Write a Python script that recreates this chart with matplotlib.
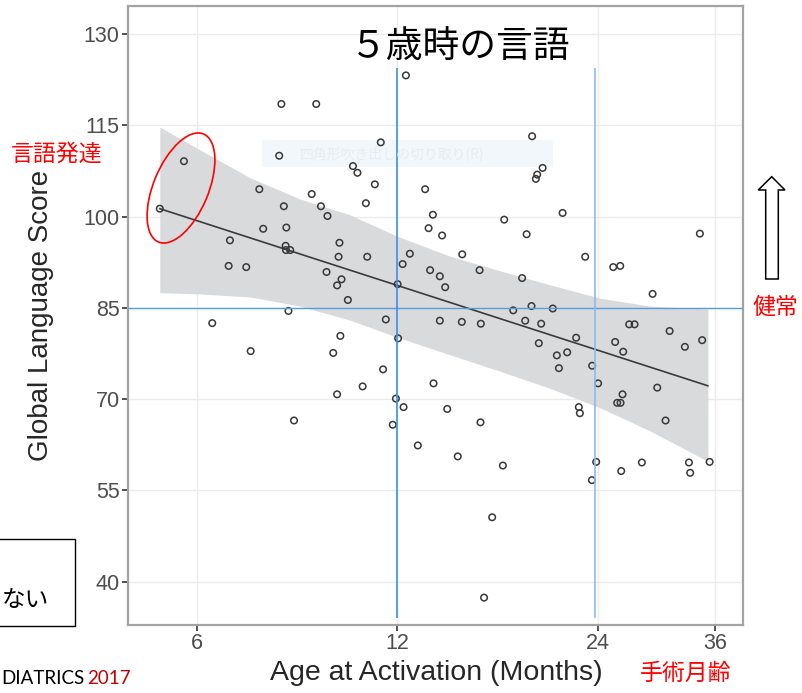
import numpy as np
import matplotlib
matplotlib.use("Agg")
import matplotlib.pyplot as plt
from matplotlib.patches import Ellipse, Polygon, Rectangle
from matplotlib.transforms import IdentityTransform
from matplotlib.ticker import FixedLocator, FixedFormatter, NullLocator

# age at activation (months) and global language score at 5 years
age_months = [
    8.04, 9.07, 7.98, 5.74, 5.28, 7.45, 8.93, 8.11, 9.22, 9.43, 7.55, 8.18,
    6.73, 8.16, 8.17, 8.29, 6.70, 7.12, 9.40, 8.24, 6.33, 7.23, 8.40,
    12.37, 11.34, 10.30, 10.46, 11.11, 10.77, 19.14, 13.22, 13.58, 13.38, 14.02, 17.38,
    18.78, 9.83, 9.80, 10.82, 12.54, 12.23, 15.03, 15.96, 13.45, 13.91, 14.17, 18.49,
    9.90, 9.75, 10.12, 12.02, 11.54, 13.91, 15.01, 16.03, 17.93, 18.69, 9.86, 9.62,
    12.04, 11.43, 13.61, 10.65, 9.75, 11.95, 12.27, 14.27, 11.82, 16.01, 12.89, 14.80,
    17.30, 16.67, 16.21,
    19.85, 19.48, 19.39, 21.27, 34.20, 23.00, 25.34, 25.96, 29.04, 19.10, 20.56, 19.75,
    19.59, 26.78, 27.28, 30.80, 32.47, 34.47, 22.29, 25.51, 26.23, 20.85, 21.61, 21.00,
    23.56, 24.05, 26.17, 25.69, 25.99, 29.51, 22.50, 22.58, 30.37, 23.89, 26.05, 27.98,
    32.93, 33.07, 35.37, 23.54,
]
language_score = [
    118.5, 118.5, 110.0, 109.1, 101.3, 104.5, 103.7, 101.7, 101.7, 100.1, 98.0, 98.2,
    96.1, 95.2, 94.5, 94.5, 91.9, 91.7, 90.9, 84.5, 82.5, 77.9, 66.5,
    123.2, 112.2, 108.3, 107.2, 105.3, 102.2, 113.2, 104.5, 100.3, 98.1, 96.9, 99.5,
    97.1, 95.7, 93.4, 93.4, 93.9, 92.2, 93.8, 91.2, 91.2, 90.2, 88.4, 89.9,
    89.7, 88.7, 86.3, 88.9, 83.1, 82.9, 82.7, 82.4, 84.6, 82.9, 80.4, 77.6,
    80.0, 74.9, 72.6, 72.1, 70.8, 70.1, 68.7, 68.4, 65.8, 66.2, 62.4, 60.6,
    59.1, 50.6, 37.4,
    108.0, 106.9, 106.2, 100.6, 97.2, 93.4, 91.7, 91.9, 87.3, 85.3, 84.9, 82.4,
    79.2, 82.3, 82.3, 81.2, 78.6, 79.7, 80.1, 79.4, 77.8, 77.2, 77.7, 75.1,
    75.5, 72.6, 70.8, 69.4, 69.4, 71.9, 68.7, 67.7, 66.5, 59.7, 58.2, 59.6,
    59.6, 57.9, 59.7, 56.7,
]

# fitted line (log age) and its confidence band
fit_age = [5.28, 35.16]
fit_score = [101.3, 72.2]
band_age = [5.28, 6.06, 7.21, 8.57, 10.19, 11.99, 14.4, 17.12, 20.35, 24.2, 28.77, 35.16]
band_upper = [114.7, 111.0, 106.4, 102.9, 100.3, 96.8, 93.5, 91.1, 88.8, 86.6, 85.3, 84.8]
band_lower = [87.5, 87.3, 86.8, 85.3, 83.0, 80.2, 77.3, 74.6, 71.8, 68.6, 64.8, 59.8]

x_ticks = [6, 12, 24, 36]
y_ticks = [40, 55, 70, 85, 100, 115, 130]
cutoff_ages = [12, 23.8]
cutoff_colors = ["#3f8ee6", "#8cbbea"]
normal_score = 85

W, H = 803, 693
fig = plt.figure(figsize=(W / 100, H / 100), dpi=100)
ax = fig.add_axes([128 / W, 1 - 625 / H, 615 / W, 619 / H])

ax.set_xscale("log")
ax.set_xlim(4.73, 39.7)
ax.set_ylim(32.9, 134.6)

ax.fill_between(band_age, band_lower, band_upper, color="#d9dadc", lw=0, zorder=1)
ax.plot(fit_age, fit_score, color="#3a3a3a", lw=1.2, zorder=3)
ax.scatter(age_months, language_score, s=22, facecolors="none",
           edgecolors="#383838", linewidths=1.1, zorder=4)

# blue reference lines
ax.axhline(normal_score, color="#5b9be0", lw=1.0, zorder=5)
for a, c in zip(cutoff_ages, cutoff_colors):
    ax.vlines(a, 34.1, 124.4, color=c, lw=1.2, zorder=5)

ax.xaxis.set_major_locator(FixedLocator(x_ticks))
ax.xaxis.set_major_formatter(FixedFormatter([str(t) for t in x_ticks]))
ax.xaxis.set_minor_locator(NullLocator())
ax.set_yticks(y_ticks)

ax.grid(True, color="#ebebeb", lw=1.0, zorder=0)
ax.set_axisbelow(True)
for sp in ax.spines.values():
    sp.set_color("#a3a3a3")
    sp.set_linewidth(1.6)
ax.tick_params(direction="out", length=4, width=1.2, color="#333333",
               labelcolor="#4d4d4d", labelsize=15.5, pad=2)
for lab in ax.get_xticklabels() + ax.get_yticklabels():
    lab.set_family("Liberation Sans")

ax.set_xlabel("Age at Activation (Months)", family="Liberation Sans",
              fontsize=20.5, color="#262626")
ax.set_ylabel("Global Language Score", family="Liberation Sans",
              fontsize=20, color="#262626")
ax.xaxis.set_label_coords(0.502, -0.056)
ax.yaxis.set_label_coords(-0.12, 0.5)

# faint callout ghost inside the panel
ax.add_patch(Rectangle((262, H - 167), 291, 27, transform=IdentityTransform(),
                       facecolor="#f2f7fc", edgecolor="none", zorder=2))
fig.text(300 / W, 1 - 154 / H, "四角形吹き出しの切り取り(R)", fontsize=10,
         color="#e7ecf2", family="Noto Sans CJK JP", va="center", zorder=2)

jp = ["Noto Sans CJK JP", "DejaVu Sans"]
fig.text(460 / W, 1 - 46 / H, "５歳時の言語", fontsize=26.5, family=jp,
         ha="center", va="center", color="black")
fig.text(57 / W, 1 - 154 / H, "言語発達", fontsize=16.5, family=jp,
         ha="center", va="center", color="#ff0000")
fig.text(775 / W, 1 - 307 / H, "健常", fontsize=16.5, family=jp,
         ha="center", va="center", color="#ff0000")
fig.text(686 / W, 1 - 673 / H, "手術月齢", fontsize=16.5, family=jp,
         ha="center", va="center", color="#ff0000")

# red ellipse round the earliest activations
fig.patches.append(Ellipse((181, H - 188), 117, 55, angle=67.4,
                           transform=IdentityTransform(), fill=False,
                           edgecolor="#ff0000", lw=1.2))

# hollow arrow pointing up
arrow = [(765.7, 279), (765.7, 190), (758.3, 190), (771.7, 176.7),
         (785, 190), (778.3, 190), (778.3, 279)]
fig.patches.append(Polygon([(x, H - y) for x, y in arrow], closed=True,
                           transform=IdentityTransform(), facecolor="white",
                           edgecolor="black", lw=1.1))

# note box at bottom left
fig.patches.append(Rectangle((-5, H - 626), 80.3, 87, transform=IdentityTransform(),
                             facecolor="white", edgecolor="black", lw=1.0))
fig.text(2 / W, 1 - 600 / H, "ない", fontsize=17, family=jp,
         ha="left", va="center", color="black")

fig.text(1 / W, 1 - 678 / H, "DIATRICS", fontsize=13.5, family="Lato",
         ha="left", va="center", color="black")
fig.text(87 / W, 1 - 678 / H, "2017", fontsize=13.5, family="Lato",
         ha="left", va="center", color="#c00000")

fig.savefig("out.png", dpi=100)
